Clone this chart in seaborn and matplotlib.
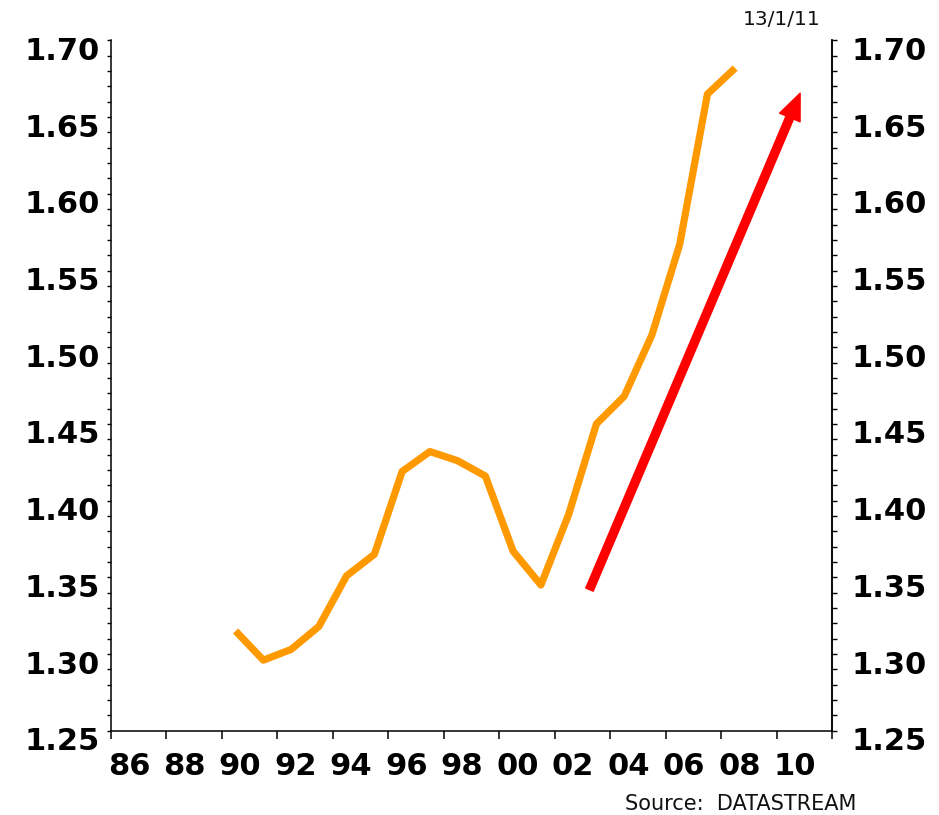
import matplotlib
matplotlib.use("Agg")
import matplotlib.pyplot as plt
from matplotlib.ticker import MultipleLocator, FixedLocator, NullFormatter
from matplotlib.transforms import ScaledTranslation
import numpy as np
import pandas as pd
import seaborn as sns

# annual values, plotted at mid-year
years = list(range(1990, 2009))
values = [1.315, 1.296, 1.303, 1.318, 1.351, 1.365, 1.419, 1.432, 1.426, 1.416,
          1.367, 1.345, 1.391, 1.450, 1.468, 1.508, 1.567, 1.665, 1.682]

# trend arrow (start -> tip)
arrow_x = [2003.25, 2010.84]
arrow_y = [1.342, 1.6656]

year_ticks = list(range(1986, 2013, 2))
year_labels = ["86", "88", "90", "92", "94", "96", "98", "00", "02", "04", "06", "08", "10"]
y_ticks = [1.25, 1.30, 1.35, 1.40, 1.45, 1.50, 1.55, 1.60, 1.65, 1.70]

df = pd.DataFrame({"year": np.array(years) + 0.5, "value": values})

sns.set_theme(style="white")
plt.rcParams["font.family"] = ["DejaVu Sans"]

fig = plt.figure(figsize=(9.39, 8.15), dpi=100)
ax = fig.add_axes([0.1179, 0.1034, 0.7685, 0.847])

sns.lineplot(data=df, x="year", y="value", ax=ax, color="#FF9900", linewidth=5.2)
ln = ax.get_lines()[0]
ln.set_solid_capstyle("butt")
ln.set_solid_joinstyle("round")

ax.annotate("", xy=(arrow_x[1], arrow_y[1]), xytext=(arrow_x[0], arrow_y[0]),
            arrowprops=dict(color="#FF0000", width=5.8, headwidth=16, headlength=19, shrink=0))

ax.set_xlim(1986, 2012)
ax.set_ylim(1.25, 1.70)
ax.set_xlabel("")
ax.set_ylabel("")

for s in ["left", "bottom", "right"]:
    ax.spines[s].set_color("black")
    ax.spines[s].set_linewidth(1.1)
ax.spines["top"].set_visible(False)

# x: tick marks at even years, labels shifted into the period
ax.xaxis.set_major_locator(FixedLocator(year_ticks))
ax.xaxis.set_major_formatter(NullFormatter())
ax.xaxis.set_minor_locator(FixedLocator([y + 0.66 for y in year_ticks[:-1]]))
ax.set_xticklabels(year_labels, minor=True)
ax.tick_params(axis="x", which="major", direction="out", length=5.5, width=1.1,
               color="black", bottom=True)
ax.tick_params(axis="x", which="minor", length=0, pad=15, labelsize=22,
               labelcolor="black")
for t in ax.get_xticklabels(minor=True):
    t.set_fontweight("bold")

ax.yaxis.set_major_locator(FixedLocator(y_ticks))
ax.yaxis.set_minor_locator(MultipleLocator(0.01))
ax.set_yticklabels([f"{v:.2f}" for v in y_ticks])
ax.tick_params(axis="y", which="both", direction="out", length=3.2, width=1.0,
               color="black", left=True, pad=4.5, labelsize=22, labelcolor="black")

ax2 = ax.twinx()
ax2.set_ylim(ax.get_ylim())
ax2.yaxis.set_major_locator(FixedLocator(y_ticks))
ax2.yaxis.set_minor_locator(MultipleLocator(0.01))
ax2.set_yticklabels([f"{v:.2f}" for v in y_ticks])
ax2.tick_params(axis="y", which="both", direction="out", length=3.6, width=1.0,
                color="black", right=True, pad=10, labelsize=22, labelcolor="black")
for s in ["left", "bottom", "top"]:
    ax2.spines[s].set_visible(False)
ax2.spines["right"].set_color("black")
ax2.spines["right"].set_linewidth(1.1)

# y labels hang just below their tick, as in the original
nudge = ScaledTranslation(0, 2.5 / 72, fig.dpi_scale_trans)
for tick in ax.yaxis.get_major_ticks():
    tick.label1.set_fontweight("bold")
    tick.label1.set_verticalalignment("top")
    tick.label1.set_transform(tick.label1.get_transform() + nudge)
for tick in ax2.yaxis.get_major_ticks():
    tick.label2.set_fontweight("bold")
    tick.label2.set_verticalalignment("top")
    tick.label2.set_transform(tick.label2.get_transform() + nudge)

fig.text(0.832, 0.969, "13/1/11", ha="center", va="baseline", fontsize=14.5, color="#111111")
fig.text(0.912, 0.006, "Source:  DATASTREAM", ha="right", va="baseline", fontsize=15,
         color="#111111")

fig.savefig("out.png", dpi=100)
